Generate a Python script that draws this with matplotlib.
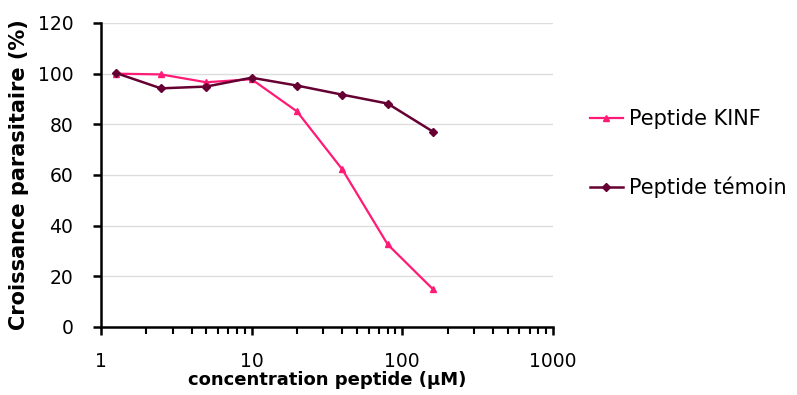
import numpy as np
import matplotlib.pyplot as plt
from matplotlib.ticker import FixedLocator, NullFormatter

conc = [1.25, 2.5, 5, 10, 20, 40, 80, 160]
kinf = [100.0, 99.7, 96.6, 97.8, 85.1, 62.2, 32.6, 14.9]
temoin = [100.3, 94.2, 94.9, 98.4, 95.3, 91.7, 88.2, 77.1]
yticks = [0, 20, 40, 60, 80, 100, 120]
xticks = [1, 10, 100, 1000]

fig = plt.figure(figsize=(7.97, 3.95), dpi=100)
ax = fig.add_axes([0.1267, 0.1722, 0.567, 0.7696])

ax.plot(conc, kinf, color='#ff1a75', lw=1.6, marker='^', ms=5, label='Peptide KINF')
ax.plot(conc, temoin, color='#660033', lw=1.8, marker='D', ms=4.5, label='Peptide témoin')

ax.set_xscale('log')
ax.set_xlim(1, 1000)
ax.set_ylim(0, 120)
ax.set_yticks(yticks)
ax.set_xticks(xticks)
ax.set_xticklabels([str(t) for t in xticks])
minors = [m * d for d in (1, 10, 100) for m in range(2, 10)]
ax.xaxis.set_minor_locator(FixedLocator(minors))
ax.xaxis.set_minor_formatter(NullFormatter())

ax.grid(axis='y', color='#dddddd', lw=1)
ax.set_axisbelow(True)
for s in ['top', 'right']:
    ax.spines[s].set_visible(False)
for s in ['left', 'bottom']:
    ax.spines[s].set_linewidth(1.8)
ax.tick_params(axis='both', which='major', direction='out', length=6, width=1.8, labelsize=13.5, colors='black')
ax.tick_params(axis='x', which='minor', direction='out', length=5, width=1.5)
ax.tick_params(axis='x', which='major', pad=12)
ax.tick_params(axis='y', which='major', pad=14)

ax.set_xlabel('concentration peptide (µM)', fontsize=13, fontweight='bold', labelpad=0)
ax.set_ylabel('Croissance parasitaire (%)', fontsize=15, fontweight='bold', labelpad=6)

ax.legend(loc='center left', bbox_to_anchor=(1.04, 0.57), frameon=False, fontsize=15,
          handlelength=1.6, handletextpad=0.3, labelspacing=2.3)

fig.savefig('out.png', dpi=100)
